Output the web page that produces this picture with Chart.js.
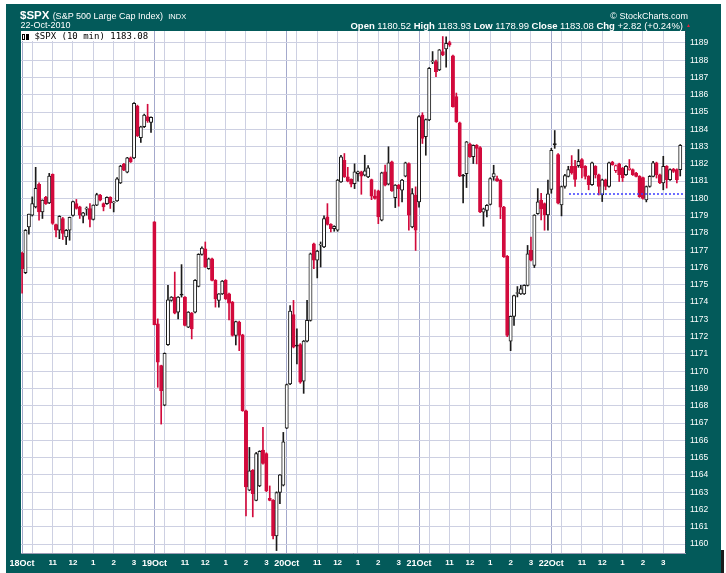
<!DOCTYPE html>
<html>
<head>
<meta charset="utf-8">
<script src="https://cdn.jsdelivr.net/npm/chart.js@4.4.0/dist/chart.umd.min.js"></script>
<style>
	body { margin: 0; background: #fff; width: 726px; height: 573px; overflow: hidden; position: relative; font-family: "Liberation Sans", Arial, sans-serif; }
	#frame { position: absolute; left: 6px; top: 4px; width: 715px; height: 569px; background: #035a5a; }
	#shadow { position: absolute; left: 721px; top: 550px; width: 3px; height: 23px; background: #1c1c1c; }
	#chart { position: absolute; left: 0; top: 0; }
	.t { position: absolute; color: #fff; white-space: nowrap; line-height: 1; }
	#legend { position: absolute; left: 21px; top: 31px; height: 10px; padding-right: 3px; background: #fff; color: #000; font: 9px "DejaVu Sans Mono", monospace; line-height: 10px; white-space: nowrap; }
	.ic { display: inline-block; width: 1px; height: 4px; border: 1px solid #000; margin-left: 1px; vertical-align: -1px; }
</style>
</head>
<body>
<div id="frame"></div>
<div id="shadow"></div>
<canvas id="chart" width="726" height="573"></canvas>

<div class="t" style="left:20px; top:10.2px; font-size:11.5px;"><b>$SPX</b> <span style="font-size:9px;">(S&amp;P 500 Large Cap Index)</span> <span style="font-size:7.5px; margin-left:2px;">INDX</span></div>
<div class="t" style="left:20.5px; top:20.9px; font-size:9px;">22-Oct-2010</div>
<div class="t" style="right:38px; top:11.9px; font-size:9px;">&copy; StockCharts.com</div>
<div class="t" style="right:43px; top:20.5px; font-size:9.5px;"><b>Open</b> 1180.52 <b>High</b> 1183.93 <b>Low</b> 1178.99 <b>Close</b> 1183.08 <b>Chg</b> +2.82 (+0.24%)</div>
<div class="t" style="left:686px; top:23px; font-size:5px; color:#e0203c;">&#9650;</div>
<div id="legend"><span class="ic"></span><span class="ic" style="background:#000;"></span> $SPX (10 min) 1183.08</div>

<script>
// five sessions of 10 minute bars, 39 bars each (9:30 .. 15:50)
const dayLabels = ['18Oct', '19Oct', '20Oct', '21Oct', '22Oct'];
const hourLabels = ['11', '12', '1', '2', '3'];
const barsPerDay = 39;
const prevClose = 1180.26;
const prevCloseFrom = 161.2;
const yTickValues = [1160, 1161, 1162, 1163, 1164, 1165, 1166, 1167, 1168, 1169, 1170, 1171, 1172, 1173, 1174,
	1175, 1176, 1177, 1178, 1179, 1180, 1181, 1182, 1183, 1184, 1185, 1186, 1187, 1188, 1189];

const opens = [
	1176.84, 1175.70, 1178.35, 1179.03, 1179.51, 1180.81, 1179.22, 1180.06, 1179.74, 1181.39, 1178.49, 1178.16, 1178.84, 1177.77, 1178.16, 1179.01, 1179.70, 1179.51, 1178.97, 1179.38, 1179.42, 1178.78, 1179.61, 1180.19, 1179.70, 1179.70, 1180.06, 1179.74, 1179.86, 1180.90, 1181.99, 1181.52, 1182.35, 1182.35, 1185.35, 1183.51, 1184.15, 1184.73, 1184.40,
	1178.64, 1172.74, 1170.32, 1168.04, 1171.54, 1174.10, 1174.29, 1173.42, 1174.43, 1174.29, 1172.55, 1173.36, 1173.42, 1174.91, 1176.76, 1177.09, 1175.93, 1176.51, 1175.26, 1174.10, 1174.48, 1175.26, 1174.48, 1174.00, 1172.07, 1172.84, 1172.10, 1167.71, 1163.11, 1164.27, 1162.53, 1163.36, 1165.43, 1165.24, 1162.65, 1162.53, 1160.47, 1162.98, 1163.40,
	1166.71, 1169.26, 1173.28, 1171.50, 1171.54, 1169.42, 1171.74, 1172.94, 1177.38, 1176.42, 1177.30, 1177.19, 1178.93, 1178.50, 1178.25, 1178.16, 1180.96, 1182.21, 1181.25, 1181.10, 1180.86, 1181.44, 1181.54, 1181.35, 1181.25, 1181.09, 1180.13, 1180.44, 1178.74, 1181.54, 1180.82, 1182.12, 1180.05, 1180.77, 1180.48, 1181.29, 1182.02, 1178.35, 1180.19,
	1179.80, 1184.83, 1183.57, 1184.54, 1187.90, 1187.92, 1187.44, 1188.50, 1188.65, 1189.02, 1188.25, 1185.89, 1184.38, 1181.35, 1181.44, 1183.14, 1182.41, 1183.08, 1182.95, 1179.20, 1179.31, 1179.66, 1181.25, 1181.15, 1181.06, 1179.50, 1176.65, 1171.74, 1173.17, 1174.50, 1174.48, 1174.48, 1174.97, 1176.99, 1176.12, 1179.12, 1179.90, 1179.70, 1179.04,
	1180.52, 1183.18, 1182.54, 1179.62, 1180.69, 1181.28, 1181.86, 1181.86, 1181.90, 1182.25, 1181.86, 1181.28, 1180.79, 1181.86, 1181.37, 1180.20, 1181.08, 1180.69, 1182.10, 1181.60, 1182.00, 1181.76, 1181.37, 1181.67, 1181.67, 1181.47, 1181.28, 1181.20, 1179.91, 1180.69, 1181.28, 1182.06, 1181.37, 1180.90, 1181.86, 1181.08, 1181.70, 1181.67, 1181.67
];
const highs = [
	1176.90, 1178.20, 1179.10, 1180.09, 1181.80, 1180.90, 1179.92, 1180.12, 1181.45, 1181.42, 1178.52, 1179.00, 1178.90, 1178.20, 1178.92, 1179.84, 1179.94, 1179.55, 1179.20, 1179.51, 1179.70, 1179.63, 1180.30, 1180.24, 1179.74, 1180.10, 1180.10, 1179.82, 1181.20, 1181.92, 1182.03, 1182.38, 1182.40, 1185.55, 1185.40, 1184.18, 1184.88, 1185.45, 1184.72,
	1178.66, 1173.03, 1170.35, 1171.06, 1174.97, 1174.32, 1175.74, 1174.32, 1176.17, 1174.32, 1173.45, 1173.40, 1175.30, 1176.80, 1177.20, 1177.48, 1176.55, 1176.55, 1175.30, 1174.50, 1175.25, 1175.30, 1174.52, 1174.04, 1172.90, 1172.90, 1172.14, 1167.75, 1165.59, 1164.31, 1165.30, 1165.40, 1166.75, 1165.28, 1163.36, 1162.57, 1163.02, 1164.02, 1166.46,
	1169.26, 1173.80, 1174.10, 1172.45, 1171.60, 1171.78, 1174.10, 1176.84, 1177.42, 1177.00, 1177.48, 1179.00, 1179.70, 1178.54, 1178.42, 1181.10, 1182.50, 1182.60, 1181.80, 1181.14, 1182.00, 1181.58, 1181.58, 1182.50, 1181.90, 1181.12, 1180.50, 1180.48, 1181.52, 1181.93, 1182.99, 1182.16, 1180.80, 1180.81, 1181.10, 1182.10, 1182.06, 1180.57, 1180.67,
	1184.80, 1184.96, 1184.60, 1187.58, 1188.50, 1188.00, 1188.62, 1189.37, 1189.35, 1189.10, 1188.30, 1186.10, 1184.42, 1181.40, 1183.30, 1183.20, 1183.10, 1183.12, 1183.00, 1179.44, 1179.64, 1181.20, 1181.92, 1181.30, 1181.10, 1179.54, 1176.70, 1173.20, 1174.40, 1174.90, 1174.97, 1175.00, 1177.28, 1177.77, 1179.06, 1180.57, 1180.30, 1179.74, 1181.06,
	1182.90, 1183.93, 1182.60, 1180.72, 1181.40, 1181.86, 1182.48, 1182.20, 1182.83, 1182.30, 1181.90, 1181.32, 1182.10, 1181.90, 1181.41, 1181.12, 1181.12, 1182.10, 1182.15, 1181.94, 1182.04, 1181.80, 1181.90, 1182.25, 1181.71, 1181.51, 1181.32, 1181.24, 1180.72, 1181.32, 1182.15, 1182.10, 1181.41, 1182.44, 1181.90, 1181.71, 1181.74, 1181.71, 1183.12
];
const lows = [
	1174.52, 1175.65, 1177.93, 1178.98, 1179.45, 1178.74, 1178.84, 1179.66, 1179.70, 1178.50, 1177.77, 1177.67, 1177.62, 1177.33, 1177.58, 1178.98, 1179.38, 1178.84, 1178.58, 1179.03, 1178.35, 1178.75, 1179.58, 1179.86, 1179.28, 1179.66, 1179.42, 1179.22, 1179.82, 1180.86, 1181.60, 1181.48, 1182.08, 1182.30, 1183.58, 1183.24, 1184.10, 1184.40, 1183.82,
	1172.68, 1169.07, 1166.94, 1168.00, 1171.50, 1174.05, 1173.32, 1173.03, 1174.29, 1172.62, 1172.52, 1171.87, 1173.38, 1174.88, 1176.72, 1176.00, 1175.90, 1175.22, 1173.71, 1173.71, 1174.44, 1174.15, 1172.97, 1172.03, 1171.52, 1171.19, 1167.68, 1161.62, 1163.08, 1161.57, 1162.50, 1163.32, 1164.62, 1163.03, 1162.50, 1160.30, 1159.62, 1162.34, 1163.36,
	1166.68, 1169.22, 1171.35, 1170.42, 1169.30, 1168.72, 1171.70, 1172.90, 1175.93, 1175.40, 1176.03, 1177.15, 1178.46, 1178.06, 1178.10, 1178.10, 1180.92, 1181.22, 1180.96, 1180.67, 1180.57, 1181.00, 1180.24, 1181.30, 1181.20, 1179.93, 1179.96, 1178.54, 1178.70, 1180.73, 1180.78, 1180.40, 1179.47, 1179.55, 1179.80, 1181.25, 1178.16, 1178.30, 1176.99,
	1179.50, 1183.18, 1182.50, 1184.50, 1187.80, 1187.05, 1187.40, 1188.26, 1187.59, 1188.80, 1185.28, 1184.40, 1181.26, 1179.74, 1180.63, 1182.38, 1182.02, 1182.00, 1179.18, 1178.39, 1178.93, 1179.62, 1181.05, 1180.98, 1178.83, 1176.58, 1172.00, 1171.19, 1172.65, 1174.30, 1174.44, 1174.44, 1174.93, 1176.38, 1176.00, 1179.08, 1178.75, 1178.16, 1178.16,
	1180.30, 1182.90, 1179.68, 1178.99, 1180.60, 1181.24, 1181.40, 1180.70, 1181.80, 1181.18, 1181.12, 1180.50, 1180.75, 1181.18, 1180.20, 1179.82, 1180.50, 1180.65, 1181.92, 1181.50, 1180.98, 1180.98, 1181.33, 1181.63, 1181.33, 1181.24, 1180.06, 1179.96, 1179.80, 1180.65, 1181.24, 1181.18, 1180.86, 1180.50, 1180.60, 1181.04, 1181.50, 1180.90, 1181.30
];
const closes = [
	1175.93, 1178.16, 1179.09, 1179.70, 1180.58, 1179.22, 1179.90, 1179.70, 1181.29, 1178.55, 1178.16, 1178.97, 1177.97, 1178.16, 1178.90, 1179.82, 1179.42, 1179.03, 1179.17, 1179.40, 1178.78, 1179.61, 1180.23, 1179.90, 1179.51, 1180.06, 1179.74, 1179.76, 1181.14, 1181.87, 1181.64, 1182.35, 1182.12, 1185.51, 1183.63, 1184.15, 1184.83, 1184.48, 1184.69,
	1172.70, 1170.52, 1168.88, 1171.04, 1174.13, 1174.29, 1173.36, 1174.29, 1174.40, 1172.65, 1173.42, 1172.45, 1175.26, 1176.76, 1177.13, 1176.03, 1176.51, 1175.26, 1174.19, 1174.48, 1175.22, 1174.19, 1173.94, 1172.07, 1172.88, 1172.07, 1167.71, 1163.31, 1164.24, 1162.92, 1165.24, 1165.36, 1164.66, 1163.07, 1162.53, 1160.47, 1162.98, 1164.00, 1165.92,
	1169.22, 1173.48, 1171.39, 1171.45, 1169.36, 1171.74, 1172.94, 1176.80, 1176.42, 1176.96, 1177.35, 1178.83, 1178.50, 1178.25, 1178.39, 1181.06, 1182.41, 1181.25, 1181.00, 1180.82, 1181.54, 1181.54, 1181.29, 1181.60, 1181.77, 1180.13, 1180.00, 1178.93, 1181.48, 1180.77, 1182.06, 1180.44, 1180.77, 1180.57, 1181.06, 1182.06, 1179.03, 1180.28, 1178.16,
	1184.73, 1183.47, 1184.57, 1187.53, 1187.95, 1187.34, 1188.60, 1188.30, 1188.98, 1188.89, 1185.31, 1184.44, 1181.29, 1181.29, 1183.28, 1182.41, 1183.08, 1182.89, 1179.22, 1179.40, 1179.60, 1181.15, 1181.44, 1181.02, 1179.50, 1176.61, 1172.07, 1173.17, 1174.38, 1174.52, 1174.77, 1174.97, 1176.80, 1176.42, 1179.03, 1179.80, 1179.40, 1179.04, 1180.26,
	1182.79, 1183.09, 1179.72, 1180.69, 1181.32, 1181.67, 1181.47, 1181.10, 1182.15, 1181.76, 1181.28, 1180.79, 1182.06, 1181.37, 1180.69, 1181.08, 1180.69, 1182.06, 1181.96, 1181.90, 1181.37, 1181.18, 1181.86, 1181.76, 1181.37, 1181.28, 1180.10, 1180.00, 1180.69, 1181.28, 1182.06, 1181.37, 1180.90, 1181.86, 1181.08, 1181.67, 1181.57, 1181.08, 1183.08
];

const FONT = '"Liberation Sans", Arial, sans-serif';
const RED = '#d20a3c';
const BLACK = '#1a1a1a';
const GRID = '#cdd0e2';
const DAY_GRID = '#a4a9cc';

// x ticks: day start, 10:00 (no label), then 11..3
const tickIndex = [];
const tickText = [];
const tickIsDay = [];
dayLabels.forEach((day, d) => {
	const base = d * barsPerDay;
	tickIndex.push(base); tickText.push(day); tickIsDay.push(true);
	tickIndex.push(base + 3); tickText.push(''); tickIsDay.push(false);
	hourLabels.forEach((h, k) => {
		tickIndex.push(base + 9 + 6 * k); tickText.push(h); tickIsDay.push(false);
	});
});

// stockcharts style: black if up from previous close, red if down; hollow if close > open
const lineColors = [];
const fillColors = [];
const wickData = [];
const bodyData = [];
for (let i = 0; i < closes.length; i++) {
	const prev = i > 0 ? closes[i - 1] : opens[i];
	const c = closes[i] < prev ? RED : BLACK;
	lineColors.push(c);
	fillColors.push(closes[i] < opens[i] ? c : '#ffffff');
	wickData.push({ x: i, y: [lows[i], highs[i]] });
	bodyData.push({ x: i, y: [opens[i], closes[i]] });
}

const plotBackground = {
	id: 'plotBackground',
	beforeDraw(chart) {
		const { ctx, chartArea: a } = chart;
		ctx.save();
		ctx.fillStyle = '#ffffff';
		ctx.fillRect(a.left, a.top, a.right - a.left, a.bottom - a.top);
		ctx.restore();
	},
	afterDraw(chart) {
		// dotted edge between plot and price labels
		const { ctx, chartArea: a } = chart;
		ctx.save();
		ctx.strokeStyle = '#44445a';
		ctx.lineWidth = 1;
		ctx.setLineDash([1, 1]);
		ctx.beginPath();
		ctx.moveTo(Math.round(a.right) + 0.5, a.top);
		ctx.lineTo(Math.round(a.right) + 0.5, a.bottom);
		ctx.stroke();
		ctx.restore();
	}
};

new Chart(document.getElementById('chart').getContext('2d'), {
	type: 'bar',
	data: {
		datasets: [
			{
				type: 'line',
				data: [{ x: prevCloseFrom, y: prevClose }, { x: 195.4, y: prevClose }],
				borderColor: '#3a3aff',
				borderWidth: 1.5,
				borderDash: [2, 2],
				pointRadius: 0,
				order: 1
			},
			{
				data: bodyData,
				backgroundColor: fillColors,
				borderColor: lineColors,
				borderWidth: 1,
				borderSkipped: false,
				barThickness: 3.3,
				minBarLength: 1,
				grouped: false,
				order: 2
			},
			{
				data: wickData,
				backgroundColor: lineColors,
				borderWidth: 0,
				barThickness: 1,
				grouped: false,
				order: 3
			}
		]
	},
	options: {
		responsive: false,
		devicePixelRatio: 1,
		animation: false,
		layout: { padding: { left: 21, top: 31, right: 0, bottom: 0 } },
		plugins: {
			legend: { display: false },
			tooltip: { enabled: false }
		},
		scales: {
			x: {
				type: 'linear',
				min: -0.32,
				max: 195.4,
				offset: false,
				afterBuildTicks: (scale) => { scale.ticks = tickIndex.map(v => ({ value: v })); },
				afterFit: (scale) => { scale.height = 20; },
				grid: {
					offset: false,
					drawTicks: false,
					color: (ctx) => tickIsDay[ctx.index] ? DAY_GRID : GRID
				},
				border: { display: true, color: '#9a9cb4' },
				ticks: {
					autoSkip: false,
					maxRotation: 0,
					padding: 5,
					color: '#ffffff',
					font: (ctx) => ({ family: FONT, size: tickIsDay[ctx.index] ? 9 : 8, weight: 'bold' }),
					callback: (value, index) => tickText[index]
				}
			},
			y: {
				position: 'right',
				min: 1159.48,
				max: 1189.69,
				beginAtZero: false,
				afterBuildTicks: (scale) => { scale.ticks = yTickValues.map(v => ({ value: v })); },
				afterFit: (scale) => { scale.width = 41; },
				grid: { drawTicks: false, color: GRID },
				border: { display: false },
				ticks: {
					padding: 5,
					color: '#ffffff',
					font: { family: FONT, size: 8.5 },
					callback: (value) => value
				}
			}
		}
	},
	plugins: [plotBackground]
});
</script>
</body>
</html>
